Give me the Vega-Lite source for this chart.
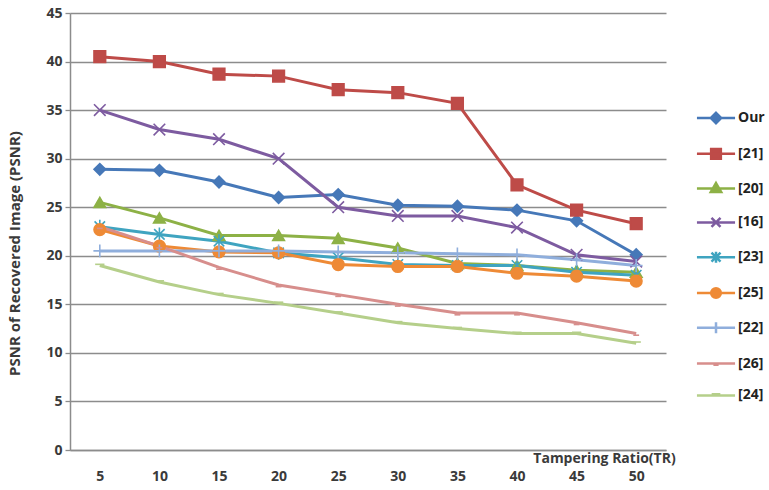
{
  "$schema": "https://vega.github.io/schema/vega-lite/v6.json",
  "width": 596,
  "height": 437,
  "autosize": {"type": "none"},
  "padding": {"left": 70, "top": 13, "right": 103, "bottom": 40},
  "background": "white",
  "config": {
    "font": "Open Sans",
    "view": {"stroke": null},
    "axis": {"labelFont": "Open Sans", "titleFont": "Open Sans", "labelColor": "#3a3a3a", "titleColor": "#3a3a3a", "labelFontWeight": "bold", "titleFontWeight": "bold"},
    "legend": {"labelFont": "Open Sans"}
  },
  "data": {"values": [
    {"x": 5, "s": "Our", "v": 28.9}, {"x": 10, "s": "Our", "v": 28.8}, {"x": 15, "s": "Our", "v": 27.6}, {"x": 20, "s": "Our", "v": 26.0}, {"x": 25, "s": "Our", "v": 26.3}, {"x": 30, "s": "Our", "v": 25.2}, {"x": 35, "s": "Our", "v": 25.1}, {"x": 40, "s": "Our", "v": 24.7}, {"x": 45, "s": "Our", "v": 23.6}, {"x": 50, "s": "Our", "v": 20.1},
    {"x": 5, "s": "[21]", "v": 40.5}, {"x": 10, "s": "[21]", "v": 40.0}, {"x": 15, "s": "[21]", "v": 38.7}, {"x": 20, "s": "[21]", "v": 38.5}, {"x": 25, "s": "[21]", "v": 37.1}, {"x": 30, "s": "[21]", "v": 36.8}, {"x": 35, "s": "[21]", "v": 35.7}, {"x": 40, "s": "[21]", "v": 27.3}, {"x": 45, "s": "[21]", "v": 24.7}, {"x": 50, "s": "[21]", "v": 23.3},
    {"x": 5, "s": "[20]", "v": 25.5}, {"x": 10, "s": "[20]", "v": 23.9}, {"x": 15, "s": "[20]", "v": 22.1}, {"x": 20, "s": "[20]", "v": 22.1}, {"x": 25, "s": "[20]", "v": 21.8}, {"x": 30, "s": "[20]", "v": 20.8}, {"x": 35, "s": "[20]", "v": 19.2}, {"x": 40, "s": "[20]", "v": 19.0}, {"x": 45, "s": "[20]", "v": 18.5}, {"x": 50, "s": "[20]", "v": 18.3},
    {"x": 5, "s": "[16]", "v": 35.0}, {"x": 10, "s": "[16]", "v": 33.0}, {"x": 15, "s": "[16]", "v": 32.0}, {"x": 20, "s": "[16]", "v": 30.0}, {"x": 25, "s": "[16]", "v": 25.0}, {"x": 30, "s": "[16]", "v": 24.1}, {"x": 35, "s": "[16]", "v": 24.1}, {"x": 40, "s": "[16]", "v": 22.9}, {"x": 45, "s": "[16]", "v": 20.1}, {"x": 50, "s": "[16]", "v": 19.4},
    {"x": 5, "s": "[23]", "v": 23.0}, {"x": 10, "s": "[23]", "v": 22.2}, {"x": 15, "s": "[23]", "v": 21.5}, {"x": 20, "s": "[23]", "v": 20.3}, {"x": 25, "s": "[23]", "v": 19.8}, {"x": 30, "s": "[23]", "v": 19.1}, {"x": 35, "s": "[23]", "v": 19.0}, {"x": 40, "s": "[23]", "v": 19.0}, {"x": 45, "s": "[23]", "v": 18.3}, {"x": 50, "s": "[23]", "v": 18.0},
    {"x": 5, "s": "[25]", "v": 22.7}, {"x": 10, "s": "[25]", "v": 21.0}, {"x": 15, "s": "[25]", "v": 20.4}, {"x": 20, "s": "[25]", "v": 20.3}, {"x": 25, "s": "[25]", "v": 19.1}, {"x": 30, "s": "[25]", "v": 18.9}, {"x": 35, "s": "[25]", "v": 18.9}, {"x": 40, "s": "[25]", "v": 18.2}, {"x": 45, "s": "[25]", "v": 17.9}, {"x": 50, "s": "[25]", "v": 17.4},
    {"x": 5, "s": "[22]", "v": 20.5}, {"x": 10, "s": "[22]", "v": 20.5}, {"x": 15, "s": "[22]", "v": 20.5}, {"x": 20, "s": "[22]", "v": 20.5}, {"x": 25, "s": "[22]", "v": 20.4}, {"x": 30, "s": "[22]", "v": 20.3}, {"x": 35, "s": "[22]", "v": 20.2}, {"x": 40, "s": "[22]", "v": 20.1}, {"x": 45, "s": "[22]", "v": 19.6}, {"x": 50, "s": "[22]", "v": 19.0},
    {"x": 5, "s": "[26]", "v": 23.0}, {"x": 10, "s": "[26]", "v": 21.0}, {"x": 15, "s": "[26]", "v": 18.8}, {"x": 20, "s": "[26]", "v": 17.0}, {"x": 25, "s": "[26]", "v": 16.0}, {"x": 30, "s": "[26]", "v": 15.0}, {"x": 35, "s": "[26]", "v": 14.1}, {"x": 40, "s": "[26]", "v": 14.1}, {"x": 45, "s": "[26]", "v": 13.1}, {"x": 50, "s": "[26]", "v": 12.0},
    {"x": 5, "s": "[24]", "v": 19.0}, {"x": 10, "s": "[24]", "v": 17.3}, {"x": 15, "s": "[24]", "v": 16.0}, {"x": 20, "s": "[24]", "v": 15.1}, {"x": 25, "s": "[24]", "v": 14.1}, {"x": 30, "s": "[24]", "v": 13.1}, {"x": 35, "s": "[24]", "v": 12.5}, {"x": 40, "s": "[24]", "v": 12.0}, {"x": 45, "s": "[24]", "v": 12.0}, {"x": 50, "s": "[24]", "v": 11.0}
  ]},
  "encoding": {
    "x": {"field": "x", "type": "ordinal", "scale": {"type": "point", "padding": 0.5},
      "axis": {"title": "Tampering Ratio(TR)", "labelAngle": 0, "ticks": false, "labelPadding": 19, "labelFontSize": 14, "domainColor": "#8c8c8c", "domainWidth": 1.5, "grid": false,
        "titleFontSize": 14, "titleX": 534, "titleY": 8, "titleAlign": "center", "titleBaseline": "middle"}},
    "y": {"field": "v", "type": "quantitative", "scale": {"domain": [0, 45], "nice": false, "zero": true},
      "axis": {"title": "PSNR of Recovered Image (PSNR)", "values": [0, 5, 10, 15, 20, 25, 30, 35, 40, 45], "labelFontSize": 14, "labelPadding": 3, "tickSize": 5, "tickColor": "#8c8c8c", "tickWidth": 1.3,
        "grid": true, "gridColor": "#8c8c8c", "gridWidth": 1.3, "domainColor": "#8c8c8c", "domainWidth": 1.5,
        "titleFontSize": 15, "titleX": -56, "titleY": 240, "titleAlign": "center", "titleBaseline": "middle", "titleAngle": -90}}
  },
  "layer": [
    {
      "mark": {"type": "line", "strokeWidth": 3},
      "encoding": {
        "color": {"field": "s", "type": "nominal",
          "scale": {"domain": ["Our", "[21]", "[20]", "[16]", "[23]", "[25]", "[22]", "[26]", "[24]"],
                    "range": ["#4678B8", "#BE4B48", "#8DB146", "#7D5BA0", "#3FA4C0", "#EE8A36", "#8FAEDC", "#D78E8C", "#B5CF8A"]},
          "legend": {"title": null, "orient": "none", "legendX": 627, "legendY": 86, "padding": 0, "symbolSize": 1200, "labelFontSize": 14, "labelFontWeight": "bold", "labelColor": "#222222", "labelOffset": 3, "rowPadding": 5.8,
            "encode": {"symbols": {"update": {
              "shape": {"signal": "({'Our': 'M-1.1,0L1.1,0M0,-0.3L0.3,0L0,0.3L-0.3,0Z', '[21]': 'M-1.1,0L1.1,0M-0.28,-0.28L0.28,-0.28L0.28,0.28L-0.28,0.28Z', '[20]': 'M-1.1,0L1.1,0M0,-0.32L0.3,0.2L-0.3,0.2Z', '[16]': 'M-1.1,0L1.1,0M-0.26,-0.26L0.26,0.26M-0.26,0.26L0.26,-0.26', '[23]': 'M-1.1,0L1.1,0M-0.26,-0.26L0.26,0.26M-0.26,0.26L0.26,-0.26M0,-0.32L0,0.32', '[25]': 'M-1.1,0L1.1,0M-0.28,0A0.28,0.28 0 1,0 0.28,0A0.28,0.28 0 1,0 -0.28,0Z', '[22]': 'M-1.1,0L1.1,0M0,-0.32L0,0.32', '[26]': 'M-1.1,0L1.1,0M-0.15,0.06L0.15,0.06', '[24]': 'M-1.1,0L1.1,0M-0.25,-0.06L0.25,-0.06'})[datum.value]"},
              "fill": {"scale": "color", "field": "value"},
              "stroke": {"scale": "color", "field": "value"},
              "strokeWidth": {"value": 2.5},
              "opacity": {"value": 1}
            }}}}
        }
      }
    },
    {
      "mark": {"type": "point", "filled": true, "opacity": 1, "strokeWidth": 1.6, "size": 135,
        "shape": {"expr": "({'Our': 'diamond', '[21]': 'square', '[20]': 'triangle-up', '[16]': 'M-1,-1L1,1M-1,1L1,-1', '[23]': 'M-0.9,-0.9L0.9,0.9M-0.9,0.9L0.9,-0.9M0,-1.2L0,1.2', '[25]': 'circle', '[22]': 'M-1.1,0L1.1,0M0,-1.1L0,1.1', '[26]': 'M-0.5,0.3L0.5,0.3', '[24]': 'M-0.8,-0.2L0.8,-0.2'})[datum.s]"}},
      "encoding": {
        "color": {"field": "s", "type": "nominal", "legend": null},
        "stroke": {"field": "s", "type": "nominal", "legend": null,
          "scale": {"domain": ["Our", "[21]", "[20]", "[16]", "[23]", "[25]", "[22]", "[26]", "[24]"],
                    "range": ["#4678B8", "#BE4B48", "#8DB146", "#7D5BA0", "#3FA4C0", "#EE8A36", "#8FAEDC", "#D78E8C", "#B5CF8A"]}}
      }
    }
  ]
}
